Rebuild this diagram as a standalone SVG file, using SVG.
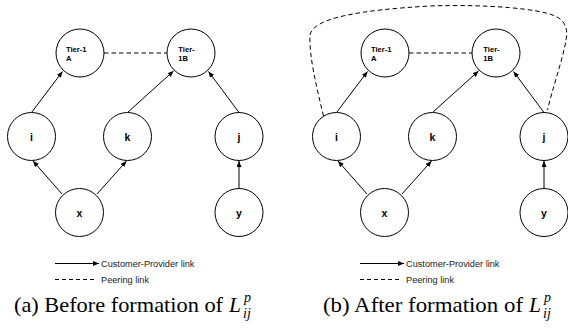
<svg xmlns="http://www.w3.org/2000/svg" width="568" height="330" viewBox="0 0 568 330">
<style>
.node circle{fill:#fff;stroke:#000;stroke-width:1}
.lbl{font-family:"Liberation Sans",Arial,sans-serif;font-weight:bold;font-size:10.5px;fill:#000;text-anchor:middle}
.tier{font-family:"Liberation Sans",Arial,sans-serif;font-weight:bold;font-size:7.6px;fill:#000}
.edge{fill:none;stroke:#000;stroke-width:1}
.cp{marker-end:url(#arr)}
.peer{stroke-dasharray:4.5,3}
.leg{font-family:"Liberation Sans",Arial,sans-serif;font-size:9.2px;fill:#222}
.cap{font-family:"Liberation Serif","Times New Roman",serif;font-size:21.5px;fill:#000}
.m{font-family:"Liberation Serif","Times New Roman",serif;font-style:italic;fill:#000}
</style>
<defs>
<marker id="arr" markerUnits="userSpaceOnUse" markerWidth="7" markerHeight="6" refX="6" refY="2.5" orient="auto">
<path d="M0,0 L6,2.5 L0,5 z" fill="#000"/>
</marker>
</defs>

<g id="connectors">
<path class="edge cp" d="M31.5,112.5 L62.5,71.5"/>
<path class="edge cp" d="M127.5,112.5 L173.5,71"/>
<path class="edge cp" d="M239,112.5 L208.5,71.5"/>
<path class="edge cp" d="M62,194 L33,161"/>
<path class="edge cp" d="M97,194 L126.5,161"/>
<path class="edge cp" d="M239,188.5 L239,161"/>
<path class="edge peer" d="M104,53 L167,53"/>
<path class="edge cp" d="M336.5,112.5 L367.5,71.5"/>
<path class="edge cp" d="M432.5,112.5 L478.5,71"/>
<path class="edge cp" d="M544,112.5 L513.5,71.5"/>
<path class="edge cp" d="M367,194 L338,161"/>
<path class="edge cp" d="M402,194 L431.5,161"/>
<path class="edge cp" d="M544,188.5 L544,161"/>
<path class="edge peer" d="M409,53 L472,53"/>
<path class="edge peer" d="M323.5,116 C316,85 309,55 310,36 C311,18 360,10 430,6 C490,4 540,9 555,16 C566,21 568,30 566,40 C564,55 552,90 547.5,110"/>
</g>

<g id="a-tier1a" class="node"><circle cx="80" cy="53" r="24"/><text class="tier" x="66" y="51.5">Tier-1</text><text class="tier" x="66" y="60.5">A</text></g>
<g id="a-tier1b" class="node"><circle cx="191" cy="53" r="24"/><text class="tier" x="178.3" y="51.5">Tier-</text><text class="tier" x="178.3" y="60.5">1B</text></g>
<g id="a-i" class="node"><circle cx="31.5" cy="136.5" r="24"/><text class="lbl" x="31.5" y="140.5">i</text></g>
<g id="a-k" class="node"><circle cx="127.5" cy="136.5" r="24"/><text class="lbl" x="127.5" y="140.5">k</text></g>
<g id="a-j" class="node"><circle cx="239" cy="136.5" r="24"/><text class="lbl" x="239" y="140.5">j</text></g>
<g id="a-x" class="node"><circle cx="79.5" cy="212.5" r="24"/><text class="lbl" x="79.5" y="216.5">x</text></g>
<g id="a-y" class="node"><circle cx="239" cy="212.5" r="24"/><text class="lbl" x="239" y="216.5">y</text></g>

<g id="b-tier1a" class="node"><circle cx="385" cy="53" r="24"/><text class="tier" x="371" y="51.5">Tier-1</text><text class="tier" x="371" y="60.5">A</text></g>
<g id="b-tier1b" class="node"><circle cx="496" cy="53" r="24"/><text class="tier" x="483.3" y="51.5">Tier-</text><text class="tier" x="483.3" y="60.5">1B</text></g>
<g id="b-i" class="node"><circle cx="336.5" cy="136.5" r="24"/><text class="lbl" x="336.5" y="140.5">i</text></g>
<g id="b-k" class="node"><circle cx="432.5" cy="136.5" r="24"/><text class="lbl" x="432.5" y="140.5">k</text></g>
<g id="b-j" class="node"><circle cx="544" cy="136.5" r="24"/><text class="lbl" x="544" y="140.5">j</text></g>
<g id="b-x" class="node"><circle cx="384.5" cy="212.5" r="24"/><text class="lbl" x="384.5" y="216.5">x</text></g>
<g id="b-y" class="node"><circle cx="544" cy="212.5" r="24"/><text class="lbl" x="544" y="216.5">y</text></g>

<g id="legend-a">
<path class="edge cp" d="M55,263.5 L99,263.5"/>
<text class="leg" x="101" y="266.5">Customer-Provider link</text>
<path class="edge" stroke-dasharray="4,3" d="M55,279.5 L97,279.5"/>
<text class="leg" x="101" y="282.5">Peering link</text>
</g>
<g id="legend-b">
<path class="edge cp" d="M360,263.5 L404,263.5"/>
<text class="leg" x="406" y="266.5">Customer-Provider link</text>
<path class="edge" stroke-dasharray="4,3" d="M360,279.5 L402,279.5"/>
<text class="leg" x="406" y="282.5">Peering link</text>
</g>

<g id="captions">
<text class="cap" x="14" y="312" textLength="209" lengthAdjust="spacingAndGlyphs">(a) Before formation of</text>
<text class="m" font-size="21.5" x="229" y="312">L</text>
<text class="m" font-size="14" x="244" y="302">p</text>
<text class="m" font-size="14" x="243" y="318">ij</text>
<text class="cap" x="323" y="312" textLength="200" lengthAdjust="spacingAndGlyphs">(b) After formation of</text>
<text class="m" font-size="21.5" x="529" y="312">L</text>
<text class="m" font-size="14" x="544" y="302">p</text>
<text class="m" font-size="14" x="543" y="318">ij</text>
</g>
</svg>
